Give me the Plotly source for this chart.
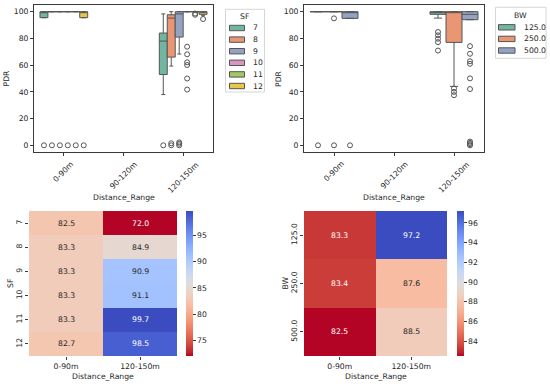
import colorsys
import plotly.graph_objects as go

# ---------------- data ----------------
distance_ranges = ["0-90m", "90-120m", "120-150m"]
sf_levels = ["7", "8", "9", "10", "11", "12"]
bw_levels = ["125.0", "250.0", "500.0"]

# Box statistics of PDR (%) per SF, for ranges 0-90m and 120-150m
sf_box_ranges = ["0-90m", "120-150m"]
sf_q1 = [[95.5, 53.0], [100, 66.0], [100, 81.0], [100, 100], [100, 100], [95.5, 98.0]]
sf_median = [[100, 78.0], [100, 95.2], [100, 98.3], [100, 100], [100, 100], [100, 99.5]]
sf_q3 = [[100, 84.0], [100, 97.7], [100, 100], [100, 100], [100, 100], [100, 100]]
sf_lower = [[95.5, 38.0], [100, 59.3], [100, 68.3], [100, 100], [100, 100], [95.5, 97.0]]
sf_upper = [[100, 98.3], [100, 100], [100, 100], [100, 100], [100, 100], [100, 100]]
sf_outliers = [
    [[0], [0]],
    [[0], [0, 1.5]],
    [[0], [0, 1.2, 2.2]],
    [[0], [73.8, 68.1, 62.1, 60.1, 50.0, 41.7]],
    [[0], [97.7, 98.6]],
    [[0], [94.5]],
]

# Box statistics of PDR (%) per BW
bw_box_ranges = ["0-90m", "120-150m"]
bw_q1 = [[100, 98.0], [100, 77.0], [95.0, 94.0]]
bw_median = [[100, 100], [100, 100], [100, 98.0]]
bw_q3 = [[100, 100], [100, 100], [100, 100]]
bw_lower = [[100, 95.2], [100, 44.1], [95.0, 94.0]]
bw_upper = [[100, 100], [100, 100], [100, 100]]
bw_outliers = [
    [[0], [84.8, 82.3, 79.8, 77.2, 70.9]],
    [[95.0, 0], [42.5, 40.0, 37.5]],
    [[0], [74.2, 68.5, 62.9, 61.0, 50.1, 42.1, 2.8, 1.8, 0.9, 0]],
]

# Mean PDR heatmaps
heat_ranges = ["0-90m", "120-150m"]
sf_heat = [[82.5, 72.0], [83.3, 84.9], [83.3, 90.9], [83.3, 91.1], [83.3, 99.7], [82.7, 98.5]]
bw_heat = [[83.3, 97.2], [83.4, 87.6], [82.5, 88.5]]

# ---------------- styling helpers ----------------
W, H = 550, 387
FONT = "DejaVu Sans"
FS = 7.7
TXT = "#262626"
EDGE = "#555555"
SPINE = "#3a3a3a"


def px(x):
    return x / W


def py(y):
    return 1 - y / H


set2 = ["#66c2a5", "#fc8d62", "#8da0cb", "#e78ac3", "#a6d854", "#ffd92f"]


def desat(hexc, s=0.75):
    r, g, b = (int(hexc[i:i + 2], 16) / 255 for i in (1, 3, 5))
    h, l, sat = colorsys.rgb_to_hls(r, g, b)
    r, g, b = colorsys.hls_to_rgb(h, l, sat * s)
    return "#%02x%02x%02x" % tuple(round(v * 255) for v in (r, g, b))


box_colors = [desat(c) for c in set2]

coolwarm = [
    (0.2298057, 0.298717966, 0.753683153), (0.26623388, 0.353094838, 0.801466763),
    (0.30386891, 0.406535296, 0.84495867), (0.342804478, 0.458757618, 0.883725899),
    (0.38301334, 0.50941904, 0.917387822), (0.424369608, 0.558148092, 0.945619588),
    (0.46666708, 0.604562568, 0.968154911), (0.509635204, 0.648280772, 0.98478814),
    (0.552953156, 0.688929332, 0.995375608), (0.596262162, 0.726149107, 0.999836203),
    (0.639176211, 0.759599947, 0.998151185), (0.681291281, 0.788964712, 0.990363227),
    (0.722193294, 0.813952739, 0.976574709), (0.761464949, 0.834302879, 0.956945269),
    (0.798691636, 0.849786142, 0.931688648), (0.833466556, 0.860207984, 0.901068838),
    (0.865395197, 0.86541021, 0.865395561), (0.897787179, 0.848937047, 0.820880546),
    (0.924127593, 0.827384882, 0.774508472), (0.944468518, 0.800927443, 0.726736146),
    (0.958852946, 0.769767752, 0.678007945), (0.96732803, 0.734132809, 0.628751763),
    (0.969954137, 0.694266682, 0.579375448), (0.966811177, 0.650421156, 0.530263762),
    (0.958003065, 0.602842431, 0.481775914), (0.943660866, 0.551750968, 0.434243684),
    (0.923944917, 0.49730856, 0.387970225), (0.89904617, 0.439559467, 0.343229596),
    (0.869186849, 0.378313092, 0.300267182), (0.834620542, 0.312874446, 0.259301199),
    (0.795631745, 0.24128379, 0.220525627), (0.752534934, 0.157246067, 0.184115123),
    (0.705673158, 0.01555616, 0.150232812),
]
cw_r = coolwarm[::-1]
n_cw = len(cw_r)
colorscale = [[i / (n_cw - 1), "rgb(%d,%d,%d)" % tuple(round(v * 255) for v in c)]
              for i, c in enumerate(cw_r)]


def cmap(t):
    t = min(max(t, 0), 1) * (n_cw - 1)
    i = min(int(t), n_cw - 2)
    f = t - i
    return [a + (b - a) * f for a, b in zip(cw_r[i], cw_r[i + 1])]


def lum(rgb):
    lin = [c / 12.92 if c <= 0.03928 else ((c + 0.055) / 1.055) ** 2.4 for c in rgb]
    return 0.2126 * lin[0] + 0.7152 * lin[1] + 0.0722 * lin[2]


fig = go.Figure()

# ---------------- box plots ----------------
def add_boxes(levels, ranges, q1, med, q3, lo, hi, outl, xa, ya):
    for k, lev in enumerate(levels):
        fig.add_trace(go.Box(
            x=ranges, q1=q1[k], median=med[k], q3=q3[k],
            lowerfence=lo[k], upperfence=hi[k], y=outl[k],
            boxpoints="outliers", jitter=0, pointpos=0,
            fillcolor=box_colors[k], line=dict(color=EDGE, width=1),
            marker=dict(symbol="circle-open", size=5, color=EDGE, line=dict(width=1)),
            whiskerwidth=0.5, name=lev, offsetgroup=lev, showlegend=False,
            xaxis=xa, yaxis=ya, hoverinfo="skip",
        ))


add_boxes(sf_levels, sf_box_ranges, sf_q1, sf_median, sf_q3, sf_lower, sf_upper,
          sf_outliers, "x", "y")
add_boxes(bw_levels, bw_box_ranges, bw_q1, bw_median, bw_q3, bw_lower, bw_upper,
          bw_outliers, "x2", "y2")

# ---------------- heatmaps ----------------
annotations = []


def add_heat(z, levels, xa, ya, cb_x, dtick):
    zmin = min(min(r) for r in z)
    zmax = max(max(r) for r in z)
    fig.add_trace(go.Heatmap(
        z=z, x=heat_ranges, y=levels, colorscale=colorscale, zmin=zmin, zmax=zmax,
        xaxis=xa, yaxis=ya, hoverinfo="skip",
        colorbar=dict(x=px(cb_x), xanchor="left", xref="paper", y=py(283.5), yanchor="middle",
                      thickness=7, thicknessmode="pixels", len=145, lenmode="pixels",
                      xpad=0, ypad=0, outlinewidth=0, ticks="outside", ticklen=3,
                      tickwidth=1, tickcolor=SPINE, tick0=0, dtick=dtick,
                      tickfont=dict(family=FONT, size=FS, color=TXT)),
    ))
    for i, lev in enumerate(levels):
        for j, rng in enumerate(heat_ranges):
            v = z[i][j]
            col = cmap((v - zmin) / (zmax - zmin))
            tc = TXT if lum(col) > 0.408 else "white"
            annotations.append(dict(x=j, y=i, xref=xa, yref=ya, text=f"{v:.1f}",
                                    showarrow=False,
                                    font=dict(family=FONT, size=FS, color=tc)))


add_heat(sf_heat, sf_levels, "x3", "y3", 186, 5)
add_heat(bw_heat, bw_levels, "x4", "y4", 456.7, 2)

# ---------------- text: tick labels, titles ----------------
def txt(x, y, s, angle=0, xa="center", ya="middle", xref="paper", yref="paper"):
    annotations.append(dict(x=x, y=y, xref=xref, yref=yref, text=s, showarrow=False,
                            textangle=angle, xanchor=xa, yanchor=ya,
                            font=dict(family=FONT, size=FS, color=TXT)))


for xa in ("x", "x2"):
    for i, rng in enumerate(distance_ranges):
        txt(i, py(157), rng, angle=-45, ya="top", xref=xa)

txt(px(6), py(78.5), "PDR", angle=-90)
txt(px(278.5), py(78.5), "PDR", angle=-90)
txt(px(123.5), py(197), "Distance_Range")
txt(px(394), py(197), "Distance_Range")
txt(px(10.5), py(283.5), "SF", angle=-90)
txt(px(285), py(283.5), "BW", angle=-90)
txt(px(103), py(376), "Distance_Range")
txt(px(375.5), py(376), "Distance_Range")

# ---------------- custom legends ----------------
shapes = []


def legend(title, levels, x0, x1, y0, y1, tx, ty, pxl, pxr, row0, lx):
    shapes.append(dict(type="rect", xref="paper", yref="paper", x0=px(x0), x1=px(x1),
                       y0=py(y1), y1=py(y0), line=dict(color="#d6d6d6", width=1),
                       fillcolor="rgba(255,255,255,0.8)", layer="above"))
    txt(px(tx), py(ty), title)
    for k, lev in enumerate(levels):
        cy = row0 + k * 11.6
        shapes.append(dict(type="rect", xref="paper", yref="paper", x0=px(pxl), x1=px(pxr),
                           y0=py(cy + 2.7), y1=py(cy - 2.7), fillcolor=box_colors[k],
                           line=dict(color=EDGE, width=1), layer="above"))
        txt(px(lx), py(cy), lev, xa="left")


legend("SF", sf_levels, 225.5, 264.5, 9.3, 92, 244, 16, 229.5, 244.5, 28, 251)
legend("BW", bw_levels, 495.5, 546, 7.3, 58.3, 520.5, 15.7, 498.5, 515, 27.3, 521.5)

# ---------------- layout ----------------
def box_x(dom):
    return dict(domain=dom, type="category", categoryorder="array",
                categoryarray=distance_ranges, range=[-0.5, 2.5], showline=True,
                mirror=True, linecolor=SPINE, linewidth=1, ticks="outside", ticklen=3,
                tickwidth=1, tickcolor=SPINE, showticklabels=False, showgrid=False,
                zeroline=False, fixedrange=True)


def box_y(anchor):
    return dict(domain=[py(152), py(5)], anchor=anchor, range=[-5, 105], tick0=0, dtick=20,
                showline=True, mirror=True, linecolor=SPINE, linewidth=1, ticks="outside",
                ticklen=3, tickwidth=1, tickcolor=SPINE, showgrid=False, zeroline=False,
                tickfont=dict(family=FONT, size=FS, color=TXT))


def heat_x(dom, anchor):
    return dict(domain=dom, anchor=anchor, type="category", range=[-0.5, 1.5],
                showline=False, ticks="outside",
                ticklen=3, tickwidth=1, tickcolor=SPINE, showgrid=False, zeroline=False,
                tickfont=dict(family=FONT, size=FS, color=TXT))


def heat_y(anchor, n):
    return dict(domain=[py(356), py(211)], anchor=anchor, type="category",
                range=[n - 0.5, -0.5], showline=False, ticks="outside", ticklen=3,
                tickwidth=1, tickcolor=SPINE, tickangle=-90, showgrid=False, zeroline=False,
                tickfont=dict(family=FONT, size=FS, color=TXT))


fig.update_layout(
    width=W, height=H, margin=dict(l=0, r=0, t=0, b=0),
    paper_bgcolor="white", plot_bgcolor="white",
    font=dict(family=FONT, size=FS, color=TXT),
    boxmode="group", boxgap=0.2, boxgroupgap=0,
    showlegend=False,
    xaxis=dict(box_x([px(34), px(213)]), anchor="y"),
    yaxis=box_y("x"),
    xaxis2=dict(box_x([px(304), px(484)]), anchor="y2"),
    yaxis2=box_y("x2"),
    xaxis3=heat_x([px(29), px(177)], "y3"),
    yaxis3=heat_y("x3", len(sf_levels)),
    xaxis4=heat_x([px(304), px(447)], "y4"),
    yaxis4=heat_y("x4", len(bw_levels)),
    annotations=annotations,
    shapes=shapes,
)

fig.write_html("out.html",
               config={"displayModeBar": False, "staticPlot": True},
               post_script="document.body.style.margin='0';"
                           "document.body.style.overflow='hidden';")
